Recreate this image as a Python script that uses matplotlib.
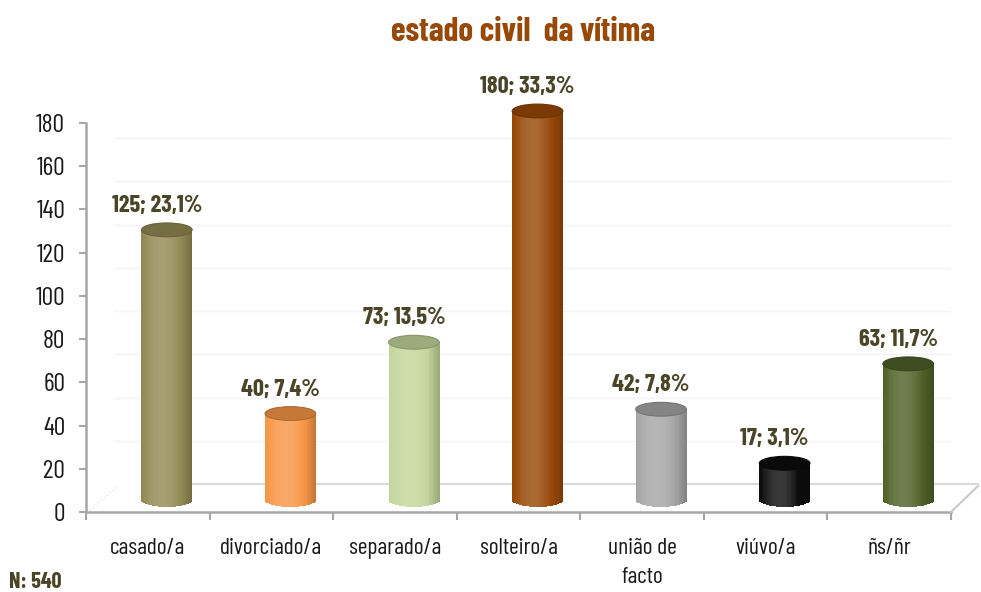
import numpy as np
import matplotlib
matplotlib.use("Agg")
import matplotlib.pyplot as plt
import matplotlib.transforms as mtransforms
from matplotlib.patches import Rectangle, Ellipse
from matplotlib.colors import to_rgb

# estado civil da vítima - barras em "cilindro" à moda do Excel

categorias = ["casado/a", "divorciado/a", "separado/a", "solteiro/a", "união de\nfacto", "viúvo/a", "ñs/ñr"]
valores = [125, 40, 73, 180, 42, 17, 63]
N = 540
cores = ["#948A54", "#F79646", "#C3D69B", "#984807", "#A6A6A6", "#0D0D0D", "#4F6228"]
yticks = [0, 20, 40, 60, 80, 100, 120, 140, 160, 180]

plt.rcParams["font.family"] = ["Barlow Condensed", "DejaVu Sans"]

W, H = 981, 592
fig = plt.figure(figsize=(W / 100, H / 100), dpi=100)
ax = fig.add_axes([86 / W, (H - 512) / H, (951 - 86) / W, (512 - 123) / H])
ax.set_facecolor("none")
ax.set_xlim(-0.5, len(categorias) - 0.5)
ax.set_ylim(0, 180)


def shade(c, d):
    c = np.array(to_rgb(c))
    if d >= 0:
        return tuple(c + (1 - c) * d)
    return tuple(c * (1 + d))


# décalage "3D" des barres et du mur du fond
bar_tr = ax.transData + mtransforms.ScaledTranslation(19 / 100, 12 / 100, fig.dpi_scale_trans)
wall_tr = ax.transData + mtransforms.ScaledTranslation(28 / 100, 28 / 100, fig.dpi_scale_trans)
lab_tr = ax.transData + mtransforms.ScaledTranslation(9 / 100, 25 / 100, fig.dpi_scale_trans)

# mur / sol
ax.hlines(yticks[1:], -0.5, len(categorias) - 0.5, colors="#f4f4f4", lw=1, transform=wall_tr, zorder=0)
ax.hlines([0], -0.2, len(categorias) - 0.5, colors="#d9d9d9", lw=1.5, transform=wall_tr, zorder=0, clip_on=False)
fig.add_artist(plt.Line2D([951 / W, 978 / W], [1 - 512 / H, 1 - 486 / H], color="#c8c8c8", lw=1.5))
fig.add_artist(plt.Line2D([90 / W, 118 / W], [1 - 510 / H, 1 - 486 / H], color="#e6e6e6", lw=1, ls=":"))

# cilindros
larg = 0.41
a = larg / 2
b = 3.2  # meia-altura da elipse, em unidades
nstrip = 40
for i, (v, c) in enumerate(zip(valores, cores)):
    xs = np.linspace(-a, a, nstrip + 1)
    for k in range(nstrip):
        x0, x1 = xs[k], xs[k + 1]
        xm = (x0 + x1) / 2
        t = (xm + a) / (2 * a)
        d = 0.3 * np.cos(np.pi * (t - 0.4)) - 0.12
        ylow = -b * np.sqrt(max(0.0, 1 - (xm / a) ** 2))
        ax.add_patch(Rectangle((i + x0, ylow), x1 - x0 + 0.002, v - ylow, facecolor=shade(c, d),
                               edgecolor="none", transform=bar_tr, clip_on=False, zorder=2))
    ax.add_patch(Ellipse((i, v), 2 * a, 2 * b, facecolor=shade(c, -0.2), edgecolor=shade(c, -0.3),
                         lw=0.8, transform=bar_tr, clip_on=False, zorder=3))
    pct = f"{100 * v / N:.1f}".replace(".", ",")
    ax.text(i, v, f"{v}; {pct}%", ha="center", va="bottom", fontsize=17.5, fontweight="bold",
            color="#4A4527", transform=lab_tr, clip_on=False, zorder=4)

# axes
for s in ["top", "right"]:
    ax.spines[s].set_visible(False)
for s in ["left", "bottom"]:
    ax.spines[s].set_color("#a6a6a6")
    ax.spines[s].set_linewidth(1.8)
ax.set_yticks(yticks)
ax.set_yticklabels([str(t) for t in yticks], fontsize=18.5, color="#1a1a1a")
ax.tick_params(axis="y", direction="out", length=5, width=1.5, color="#a6a6a6", pad=10)
ax.set_xticks(np.arange(-0.5, len(categorias)))
ax.set_xticklabels([])
ax.set_xticks(np.arange(len(categorias)), minor=True)
ax.set_xticklabels(categorias, minor=True, fontsize=17, color="#1a1a1a", va="top", linespacing=1.45)
ax.tick_params(axis="x", which="major", direction="out", length=6, width=1.5, color="#a6a6a6")
ax.tick_params(axis="x", which="minor", length=0, pad=19)

fig.text(523 / W, 1 - 32 / H, "estado civil  da vítima", ha="center", va="center",
         fontsize=24, fontweight="bold", color="#984807")
fig.text(9 / W, 1 - 582 / H, f"N: {N}", ha="left", va="center", fontsize=16,
         fontweight="bold", color="#4A4527")

fig.savefig("out.png", dpi=100)
